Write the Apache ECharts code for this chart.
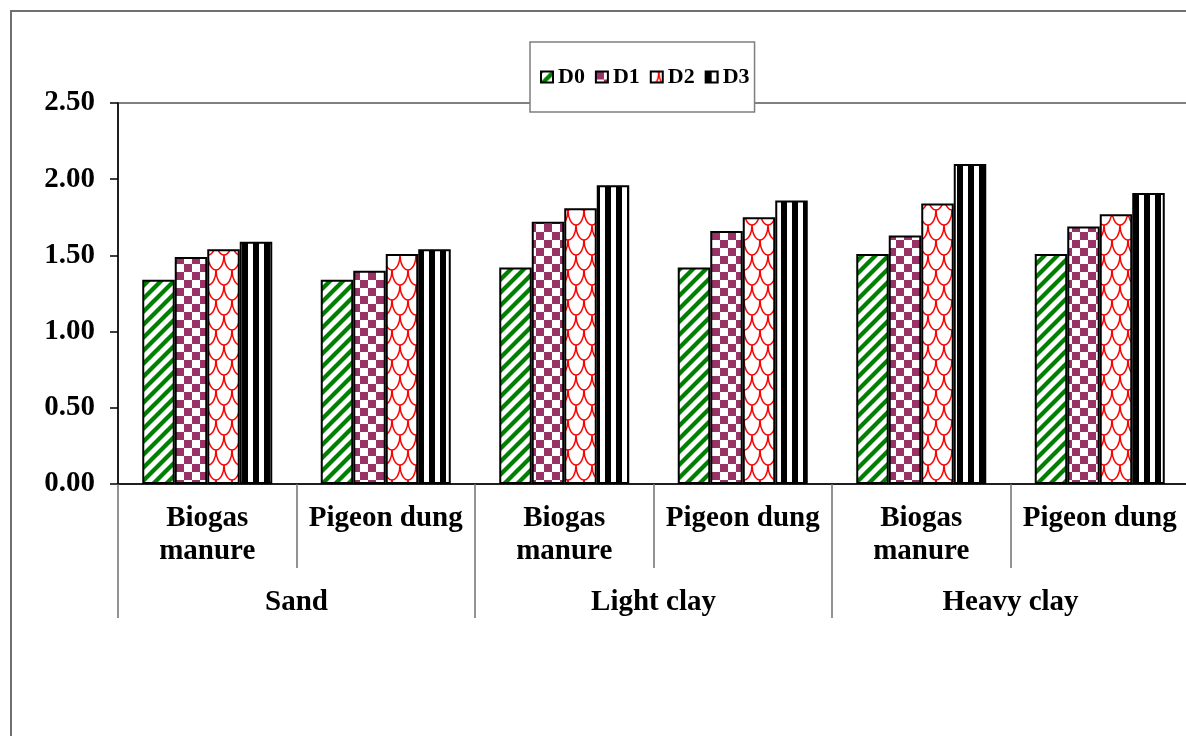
<!DOCTYPE html>
<html>
<head>
<meta charset="utf-8">
<title>D0–D3 by soil and manure</title>
<script src="https://cdn.jsdelivr.net/npm/echarts@6/dist/echarts.min.js"></script>
<style>
  html, body { margin: 0; padding: 0; background: #fff; }
  #chart { width: 1186px; height: 736px; }
</style>
</head>
<body>
<div id="chart"></div>
<script>
// Soil groups (outer level) and manure types (inner level)
const soils = ['Sand', 'Light clay', 'Heavy clay'];
const manures = ['Biogas\nmanure', 'Pigeon dung'];
const seriesNames = ['D0', 'D1', 'D2', 'D3'];

// Values per inner category, in order: Sand/Biogas, Sand/Pigeon, Light/Biogas, Light/Pigeon, Heavy/Biogas, Heavy/Pigeon
const d0 = [1.34, 1.34, 1.42, 1.42, 1.51, 1.51];
const d1 = [1.49, 1.40, 1.72, 1.66, 1.63, 1.69];
const d2 = [1.54, 1.51, 1.81, 1.75, 1.84, 1.77];
const d3 = [1.59, 1.54, 1.96, 1.86, 2.10, 1.91];

// Value axis ticks
const yTicks = ['0.00', '0.50', '1.00', '1.50', '2.00', '2.50'];

const FONT = "'Times New Roman','Liberation Serif',serif";

// Inner category keys are unique: "soil|manure"
const innerKeys = [];
soils.forEach(s => manures.forEach(m => innerKeys.push(s + '|' + m)));

// ---- fill patterns ----
function tile(w, h, draw) {
  const c = document.createElement('canvas');
  c.width = w; c.height = h;
  const ctx = c.getContext('2d');
  ctx.fillStyle = '#fff';
  ctx.fillRect(0, 0, w, h);
  draw(ctx, w, h);
  return { image: c, repeat: 'repeat' };
}

// green forward diagonal stripes
const patDiag = tile(13, 13, (ctx, w) => {
  ctx.strokeStyle = '#008000';
  ctx.lineWidth = 4.3;
  for (let o = -w; o <= w; o += w) {
    ctx.beginPath();
    ctx.moveTo(o - 2, w + 2);
    ctx.lineTo(o + w + 2, -2);
    ctx.stroke();
  }
});

// purple checkerboard
const patCheck = tile(16, 16, (ctx) => {
  ctx.fillStyle = '#993366';
  ctx.fillRect(0, 0, 8, 8);
  ctx.fillRect(8, 8, 8, 8);
});

// red scales: rows of half-ellipses, alternate rows offset by half a cell
const patScale = tile(16, 30, (ctx) => {
  ctx.strokeStyle = '#ff0000';
  ctx.lineWidth = 1.5;
  const centers = [[0, 0], [16, 0], [8, 15], [0, 30], [16, 30], [8, -15]];
  centers.forEach(([cx, cy]) => {
    ctx.beginPath();
    ctx.ellipse(cx, cy, 8, 15, 0, 0, Math.PI);
    ctx.stroke();
  });
});

// black vertical stripes
const patStripe = tile(11, 11, (ctx, w, h) => {
  ctx.fillStyle = '#000';
  ctx.fillRect(0, 0, 6, h);
});

const patterns = [patDiag, patCheck, patScale, patStripe];
const values = [d0, d1, d2, d3];

const chart = echarts.init(document.getElementById('chart'), null, { renderer: 'canvas' });

const labelStyle = {
  fontFamily: FONT,
  fontSize: 29,
  fontWeight: 'bold',
  color: '#000'
};

const option = {
  animation: false,
  backgroundColor: '#fff',
  graphic: [{
    type: 'rect',
    z: -10,
    silent: true,
    shape: { x: 11, y: 11, width: 1400, height: 900 },
    style: { fill: 'none', stroke: '#707070', lineWidth: 2 }
  }],
  legend: {
    data: seriesNames,
    left: 530,
    top: 42,
    orient: 'horizontal',
    padding: [24, 5, 24, 10],
    itemGap: 10,
    itemWidth: 12,
    itemHeight: 11,
    icon: 'rect',
    backgroundColor: '#fff',
    borderColor: '#7f7f7f',
    borderWidth: 1.5,
    textStyle: { fontFamily: FONT, fontSize: 22, fontWeight: 'bold', color: '#000' }
  },
  grid: {
    left: 118,
    top: 103,
    right: -3,
    bottom: 252,
    outerBoundsMode: 'none',
    containLabel: false,
    show: true,
    borderColor: '#808080',
    borderWidth: 2,
    backgroundColor: 'transparent'
  },
  xAxis: [{
    type: 'category',
    data: innerKeys,
    position: 'bottom',
    axisLine: { show: true, lineStyle: { color: '#000', width: 1.5 } },
    axisTick: { show: true, length: 84, interval: 0, lineStyle: { color: '#6f6f6f', width: 1.5 } },
    axisLabel: Object.assign({
      interval: 0,
      margin: 18,
      lineHeight: 33,
      formatter: v => v.split('|')[1]
    }, labelStyle),
    splitLine: { show: false }
  }, {
    type: 'category',
    data: soils,
    position: 'bottom',
    offset: 84,
    axisLine: { show: false },
    axisTick: { show: true, length: 50, interval: 0, lineStyle: { color: '#6f6f6f', width: 1.5 } },
    axisLabel: Object.assign({ interval: 0, margin: 18, lineHeight: 33 }, labelStyle),
    splitLine: { show: false }
  }],
  yAxis: {
    type: 'value',
    min: 0,
    max: 2.5,
    interval: 0.5,
    axisLine: { show: true, lineStyle: { color: '#000', width: 1.5 } },
    axisTick: { show: true, length: 8, lineStyle: { color: '#000', width: 1.5 } },
    axisLabel: Object.assign({
      margin: 23,
      formatter: v => yTicks[Math.round(v / 0.5)]
    }, labelStyle),
    splitLine: { show: false }
  },
  series: seriesNames.map((name, i) => ({
    name: name,
    type: 'bar',
    xAxisIndex: 0,
    data: values[i],
    barWidth: 32.5,
    barGap: '0%',
    itemStyle: {
      color: patterns[i],
      borderColor: '#000',
      borderWidth: 2
    },
    emphasis: { disabled: true }
  }))
};

chart.setOption(option);
</script>
</body>
</html>
